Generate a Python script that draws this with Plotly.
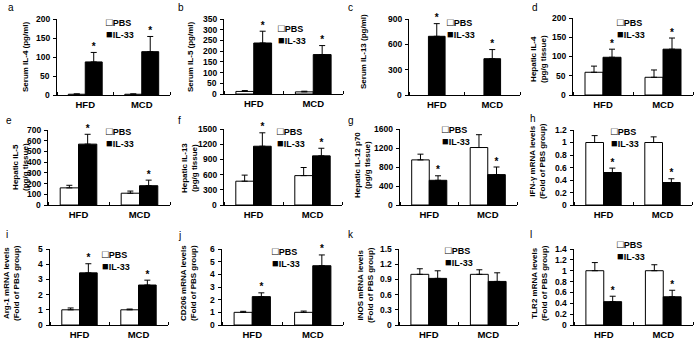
import plotly.graph_objects as go

# ---------------- data ----------------
GROUPS = ["HFD", "MCD"]
SERIES = ["PBS", "IL-33"]
PANEL_LETTERS = ["a", "b", "c", "d", "e", "f", "g", "h", "i", "j", "k", "l"]
Y_TITLES = [
    "Serum IL-4 (pg/ml)",
    "Serum IL-5 (pg/ml)",
    "Serum IL-13 (pg/ml)",
    "Hepatic IL-4<br>(pg/g tissue)",
    "Hepatic IL-5<br>(pg/g tissue)",
    "Hepatic IL-13<br>(pg/g tissue)",
    "Hepatic IL-12 p70<br>(pg/g tissue)",
    "IFN-γ mRNA levels<br>(Fold of PBS group)",
    "Arg-1 mRNA levels<br>(Fold of PBS group)",
    "CD206 mRNA levels<br>(Fold of PBS group)",
    "iNOS mRNA levels<br>(Fold of PBS group)",
    "TLR2 mRNA levels<br>(Fold of PBS group)",
]
Y_TICKS = [
    ["0", "50", "100", "150", "200"],
    ["0", "50", "100", "150", "200", "250", "300", "350"],
    ["0", "300", "600", "900"],
    ["0", "50", "100", "150", "200"],
    ["0", "100", "200", "300", "400", "500", "600", "700"],
    ["0", "300", "600", "900", "1200", "1500"],
    ["0", "400", "800", "1200", "1600"],
    ["0", "0.2", "0.4", "0.6", "0.8", "1", "1.2"],
    ["0", "1", "2", "3", "4", "5"],
    ["0", "1", "2", "3", "4", "5", "6"],
    ["0", "0.3", "0.6", "0.9", "1.2", "1.5"],
    ["0", "0.2", "0.4", "0.6", "0.8", "1", "1.2", "1.4"],
]

PBS_MEAN = [[2, 2], [12, 10], [0, 0], [59, 46], [160, 110], [470, 580],
            [950, 1210], [1, 1], [1, 1], [1, 1], [1, 1], [1, 1]]
PBS_ERR = [[1, 1], [4, 3], [0, 0], [16, 19], [24, 20], [120, 160],
           [120, 270], [0.11, 0.09], [0.12, 0.05], [0.08, 0.1], [0.11, 0.09], [0.15, 0.11]]
IL33_MEAN = [[87, 114], [238, 184], [695, 430], [98, 119], [568, 180], [1160, 970],
             [520, 640], [0.52, 0.36], [3.43, 2.63], [2.24, 4.68], [0.92, 0.86], [0.43, 0.52]]
IL33_ERR = [[25, 40], [55, 42], [150, 108], [21, 29], [92, 52], [265, 150],
            [95, 160], [0.07, 0.06], [0.6, 0.32], [0.3, 0.85], [0.15, 0.17], [0.1, 0.12]]
SIGNIFICANT = [True, True, True, True, True, True, True, True, True, True, False, True]

# ---------------- layout geometry (pixels) ----------------
W, H = 700, 346
PLOT_BOX = [(57, 170, 19, 95), (224, 343, 19, 94), (409, 520, 19, 95), (573, 693, 18, 95),
            (48, 170, 130, 205), (224, 342, 129, 205), (400, 517, 129, 205), (574, 692, 130, 205),
            (50, 168, 249, 325), (222, 343, 249, 325), (399, 518, 249, 325), (574, 693, 249, 325)]
TITLE_POS = [(25, 57), (190, 56), (363, 52), (538, 59),
             (20, 167), (189, 168), (362, 165), (537, 161),
             (11, 283), (188, 283), (365, 285), (539, 283)]
LEGEND_POS = [(104, 28), (276, 34), (445, 28), (615, 28),
              (104, 137), (275, 137), (440, 135), (609, 137),
              (100, 260), (270, 257), (443, 256), (615, 250)]
LETTER_POS = [(6, 8), (176, 8), (346, 8), (530, 8),
              (4, 120), (176, 120), (346, 120), (528, 118),
              (4, 234), (176, 235), (346, 234), (528, 234)]

FONT = "Liberation Sans, Arial, DejaVu Sans, sans-serif"
BAR_W = 0.3

fig = go.Figure()
layout = dict(
    width=W, height=H, margin=dict(l=0, r=0, t=0, b=0),
    paper_bgcolor="white", plot_bgcolor="white", showlegend=False,
    font=dict(family=FONT, color="black"),
)
annotations = []

for i in range(12):
    n = "" if i == 0 else str(i + 1)
    xa, ya = "x" + n, "y" + n
    x0, x1, yt, yb = PLOT_BOX[i]
    idx = list(range(len(GROUPS)))
    has_pbs = any(PBS_MEAN[i])
    il_offset = 0 if has_pbs else -BAR_W / 2
    tick_vals = [float(t) for t in Y_TICKS[i]]
    y_top = tick_vals[-1]

    if has_pbs:
        fig.add_trace(go.Bar(
            x=idx, y=PBS_MEAN[i], width=BAR_W, offset=-BAR_W, name=SERIES[0],
            marker=dict(color="white", line=dict(color="black", width=1)),
            error_y=dict(type="data", array=PBS_ERR[i], arrayminus=[0] * len(idx),
                         symmetric=False, color="black", thickness=1, width=3),
            xaxis=xa, yaxis=ya))
    fig.add_trace(go.Bar(
        x=idx, y=IL33_MEAN[i], width=BAR_W, offset=il_offset, name=SERIES[1],
        marker=dict(color="black", line=dict(color="black", width=1)),
        error_y=dict(type="data", array=IL33_ERR[i], arrayminus=[0] * len(idx), symmetric=False,
                     color="black", thickness=1, width=3),
        xaxis=xa, yaxis=ya))
    if SIGNIFICANT[i]:
        fig.add_trace(go.Scatter(
            x=[k + il_offset + BAR_W / 2 for k in idx],
            y=[m + e for m, e in zip(IL33_MEAN[i], IL33_ERR[i])],
            mode="text", text=["<b>*</b>"] * len(idx), textposition="top center",
            textfont=dict(size=10, family=FONT, color="black"),
            cliponaxis=False, hoverinfo="skip", xaxis=xa, yaxis=ya))

    layout["xaxis" + n] = dict(
        domain=[x0 / W, x1 / W], anchor=ya, range=[-0.5, len(GROUPS) - 0.5],
        tickmode="array", tickvals=idx, ticktext=["<b>%s</b>" % g for g in GROUPS],
        ticks="outside", ticklen=1, tickcolor="rgba(0,0,0,0)",
        tickfont=dict(size=9.5, family=FONT, color="black"),
        showline=True, linecolor="black", linewidth=1, showgrid=False, zeroline=False,
        minor=dict(tickmode="linear", tick0=0.5, dtick=1, ticks="inside", ticklen=3,
                   tickcolor="black", tickwidth=1, showgrid=False),
        fixedrange=True)
    layout["yaxis" + n] = dict(
        domain=[1 - yb / H, 1 - yt / H], anchor=xa,
        range=[0, y_top],
        tickmode="array", tickvals=tick_vals, showticklabels=False,
        ticks="outside", ticklen=3, tickcolor="black", tickwidth=1,
        showline=True, linecolor="black", linewidth=1, showgrid=False, zeroline=False,
        fixedrange=True)

    # y tick labels (text placed beside the axis, on the same linear scale)
    for label, val in zip(Y_TICKS[i], tick_vals):
        ypx = yb - (val / y_top) * (yb - yt)
        annotations.append(dict(
            text="<b>%s</b>" % label, xref="paper", x=(x0 - 5) / W,
            yref="paper", y=1 - ypx / H,
            xanchor="right", yanchor="middle", showarrow=False,
            font=dict(size=8.5, family=FONT, color="black")))

    # y-axis title
    tx, ty = TITLE_POS[i]
    annotations.append(dict(
        text="<b>" + Y_TITLES[i].replace("<br>", "</b><br><b>") + "</b>",
        x=tx / W, y=1 - ty / H, xref="paper", yref="paper", textangle=-90,
        xanchor="center", yanchor="middle", showarrow=False,
        font=dict(size=8, family=FONT, color="black")))

    # legend (one text block per panel)
    lx, ly = LEGEND_POS[i]
    annotations.append(dict(
        text='<span style="font-size:11px">□</span><b>%s</b><br>'
             '<span style="font-size:11px">■</span><b>%s</b>' % (SERIES[0], SERIES[1]),
        x=lx / W, y=1 - ly / H, xref="paper", yref="paper", align="left",
        xanchor="left", yanchor="middle", showarrow=False,
        font=dict(size=9, family=FONT, color="black")))

    # panel letter
    px, py = LETTER_POS[i]
    annotations.append(dict(
        text=PANEL_LETTERS[i], x=px / W, y=1 - py / H, xref="paper", yref="paper",
        xanchor="left", yanchor="middle", showarrow=False,
        font=dict(size=10, family=FONT, color="black")))

layout["annotations"] = annotations
fig.update_layout(**layout)
fig.write_html("out.html", config={"displayModeBar": False},
               post_script="document.body.style.margin='0px';")
